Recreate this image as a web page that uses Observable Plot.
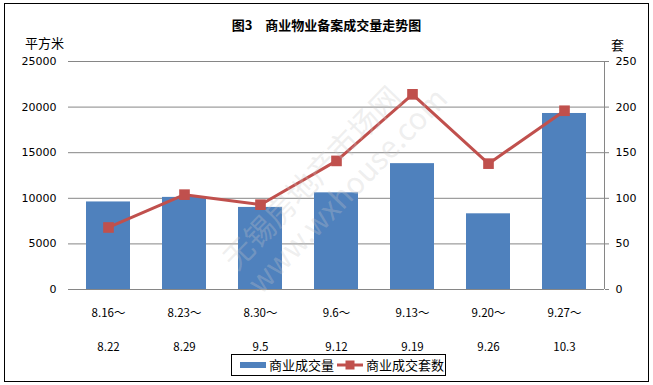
<!DOCTYPE html>
<html><head><meta charset="utf-8">
<script src="https://cdn.jsdelivr.net/npm/d3@7"></script>
<script src="https://cdn.jsdelivr.net/npm/@observablehq/plot@0.6"></script>
<style>
body{margin:0;background:#fff;font-family:"DejaVu Sans","Noto Sans CJK SC",sans-serif;}
#wrap{position:relative;width:653px;height:385px;overflow:hidden;}
#frame{position:absolute;left:4px;top:3px;width:643px;height:377px;border:1px solid #000;}
#chart{position:absolute;left:0;top:0;}
#raxis{position:absolute;left:603.5px;top:61px;width:1px;height:228px;background:#868686;}
.lbl{position:absolute;font-family:"Noto Sans CJK SC",sans-serif;color:#000;white-space:pre;}
#title{left:0;width:653px;text-align:center;top:15px;font-size:13px;font-weight:bold;}
#unitL{left:25px;top:33px;font-size:13px;}
#unitR{left:611px;top:35px;font-size:13px;}
#legend{position:absolute;left:231px;top:354px;width:213px;height:20px;border:1px solid #000;background:#fff;font-family:"Noto Sans CJK SC",sans-serif;font-size:13px;}
#wm{position:absolute;left:215px;top:251px;transform:rotate(-46deg);transform-origin:left top;font-family:"Noto Sans CJK SC",sans-serif;color:rgba(200,200,200,0.3);font-size:30px;line-height:34px;white-space:pre;pointer-events:none;}
</style></head>
<body>
<div id="wrap">
  <div id="frame"></div>
  <div id="chart"></div>
  <div id="raxis"></div>
  <div class="lbl" id="title">图3　商业物业备案成交量走势图</div>
  <div class="lbl" id="unitL">平方米</div>
  <div class="lbl" id="unitR">套</div>
  <div id="legend"></div>
</div>
<script>
const periodsStart = ["8.16～","8.23～","8.30～","9.6～","9.13～","9.20～","9.27～"];
const periodsEnd = ["8.22","8.29","9.5","9.12","9.19","9.26","10.3"];
const area = [9600, 10100, 9000, 10600, 13800, 8300, 19300];
const units = [68, 104, 93, 141, 214, 138, 196];
const leftTicks = [0, 5000, 10000, 15000, 20000, 25000];
const rightTicks = [0, 50, 100, 150, 200, 250];
const seriesNames = ["商业成交量", "商业成交套数"];
const blue = "#4F81BD", red = "#C0504D";

const cats = periodsStart.map((s, i) => s + "\n" + periodsEnd[i]);
const data = cats.map((c, i) => ({cat: c, area: area[i], units: units[i]}));
const ratio = 25000 / 250;

const plot = Plot.plot({
  width: 653,
  height: 385,
  marginTop: 61,
  marginBottom: 96,
  marginLeft: 68,
  marginRight: 49,
  style: {fontFamily: "DejaVu Sans, sans-serif", fontSize: "11px", color: "#000", background: "transparent"},
  x: {domain: cats, paddingInner: 0.42, paddingOuter: 0.21, label: null},
  y: {domain: [0, 25000], label: null},
  marks: [
    Plot.gridY(leftTicks, {stroke: "#868686", strokeOpacity: 1, strokeWidth: 1}),
    Plot.axisY(leftTicks, {anchor: "left", tickSize: 0, tickPadding: 12, tickFormat: d => String(d), label: null, fontSize: 11}),
    Plot.axisY(rightTicks.map(d => d * ratio), {anchor: "right", tickSize: 4, tickPadding: 7, tickFormat: d => String(d / ratio), label: null, stroke: "#868686", fontSize: 11}),
    Plot.barY(data, {x: "cat", y: "area", fill: blue}),
    Plot.line(data, {x: "cat", y: d => d.units * ratio, stroke: red, strokeWidth: 3}),
    Plot.dot(data, {x: "cat", y: d => d.units * ratio, symbol: "square", r: 6, fill: red, stroke: "none"}),
    Plot.axisX({tickSize: 0, tickPadding: 3, lineHeight: 3, label: null, fontSize: 11.5, fontFamily: "Noto Sans CJK SC, sans-serif"})
  ]
});
document.getElementById("chart").appendChild(plot);

const lg = document.getElementById("legend");
lg.innerHTML =
  `<svg width="213" height="20" style="position:absolute;left:0;top:0">
     <rect x="8" y="7" width="26" height="6" fill="${blue}"/>
     <line x1="105" y1="10" x2="131" y2="10" stroke="${red}" stroke-width="3"/>
     <rect x="113.5" y="5.5" width="9" height="9" fill="${red}"/>
   </svg>
   <span style="position:absolute;left:37px;top:0px;line-height:20px">${seriesNames[0]}</span>
   <span style="position:absolute;left:134px;top:0px;line-height:20px">${seriesNames[1]}</span>`;

const wm = document.createElement("div");
wm.id = "wm";
wm.textContent = "无锡房地产市场网\nwww.wxhouse.com";
document.getElementById("wrap").appendChild(wm);
</script>
</body></html>
